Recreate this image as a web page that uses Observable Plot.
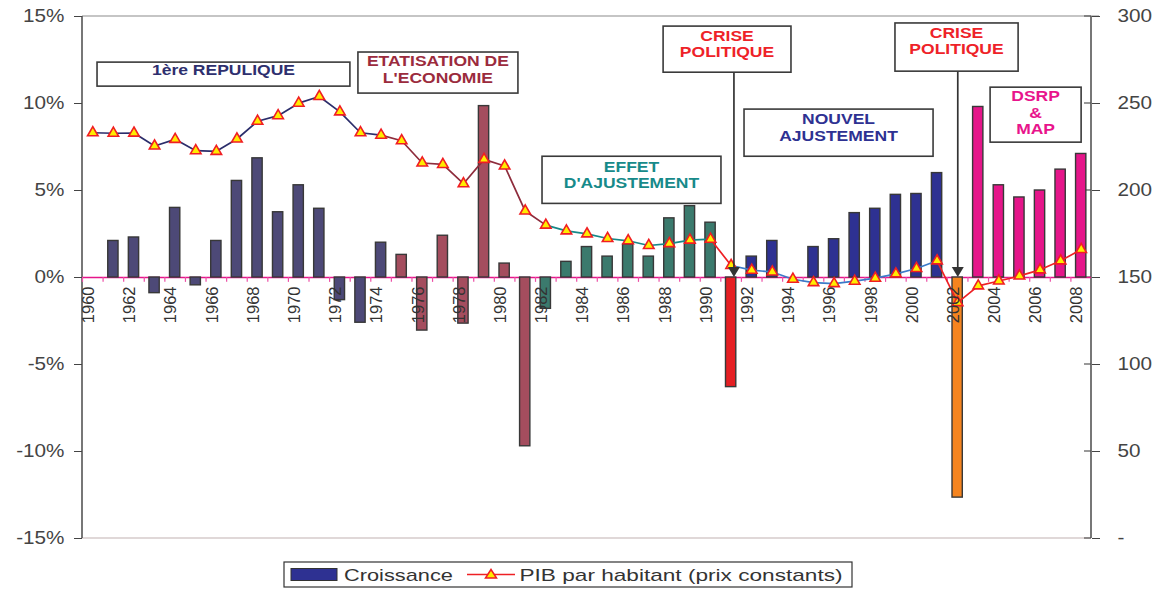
<!DOCTYPE html>
<html>
<head>
<meta charset="utf-8">
<script src="https://cdn.jsdelivr.net/npm/d3@7"></script>
<script src="https://cdn.jsdelivr.net/npm/@observablehq/plot@0.6"></script>
<style>
  html, body { margin: 0; padding: 0; background: #fff; }
  body { font-family: "Liberation Sans", Arial, sans-serif; width: 1162px; height: 589px; overflow: hidden; }
  #chart svg, #legend svg { display: block; }
</style>
</head>
<body>
<div id="chart"></div>
<div id="legend"></div>
<script>
// ---------- DATA ----------
const years = [1960,1961,1962,1963,1964,1965,1966,1967,1968,1969,1970,1971,1972,1973,1974,1975,1976,1977,1978,1979,
  1980,1981,1982,1983,1984,1985,1986,1987,1988,1989,1990,1991,1992,1993,1994,1995,1996,1997,1998,1999,
  2000,2001,2002,2003,2004,2005,2006,2007,2008];

// Croissance (%), left axis
const croissance = [null,2.1,2.3,-0.9,4.0,-0.45,2.1,5.55,6.85,3.75,5.3,3.95,-1.3,-2.6,2.0,1.3,-3.05,2.4,-2.65,9.85,
  0.8,-9.7,-1.8,0.9,1.75,1.2,1.9,1.2,3.4,4.1,3.15,-6.3,1.2,2.1,null,1.75,2.2,3.7,3.95,4.75,
  4.8,6.0,-12.65,9.8,5.3,4.6,5.0,6.2,7.1];

// PIB par habitant (prix constants), right axis
const pibHabitant = [233.2,232.9,233.0,225.6,229.4,222.9,222.5,229.6,239.8,243.0,250.2,254.0,245.2,233.2,231.8,228.6,215.8,215.0,203.9,217.9,
  214.1,188.2,180.1,176.8,175.1,172.4,171.1,168.4,169.5,171.5,172.0,156.9,154.2,153.2,149.0,147.1,146.5,147.9,149.6,152.1,
  155.2,159.6,135.6,145.2,148.0,150.9,154.4,159.6,166.1];

const yearLabels = [1960,1962,1964,1966,1968,1970,1972,1974,1976,1978,1980,1982,1984,1986,1988,1990,1992,1994,1996,1998,2000,2002,2004,2006,2008];
const leftTicks = [-15,-10,-5,0,5,10,15];
const leftTickLabels = ["-15%","-10%","-5%","0%","5%","10%","15%"];
const rightTickLabels = ["-","50","100","150","200","250","300"];

const note1 = ["1ère REPULIQUE"];
const note2 = ["ETATISATION DE","L'ECONOMIE"];
const note3 = ["EFFET","D'AJUSTEMENT"];
const note4 = ["CRISE","POLITIQUE"];
const note5 = ["NOUVEL","AJUSTEMENT"];
const note6 = ["CRISE","POLITIQUE"];
const note7 = ["DSRP","&","MAP"];

const legendLabels = ["Croissance","PIB par habitant (prix constants)"];

// ---------- STYLE HELPERS ----------
const FONT = "'Liberation Sans', Arial, Helvetica, sans-serif";
function barColor(y) {
  if (y <= 1974) return "#4d4977";
  if (y <= 1981) return "#a44d5e";
  if (y <= 1990) return "#3b7a6d";
  if (y === 1991) return "#e51f23";
  if (y <= 2001) return "#2e3192";
  if (y === 2002) return "#f5841f";
  return "#e5168a";
}
function lineColor(y) {
  if (y < 1974) return "#2b2d6b";
  if (y < 1982) return "#8e2c3c";
  if (y < 1990) return "#168888";
  if (y === 1990) return "#ee2024";
  if (y < 2001) return "#3b7bc9";
  return "#ee2024";
}
// PIB value expressed on the shared y scale (150 <-> 0 %, 10 units per %)
const toPct = v => (v - 150) / 10;

const table = years.map((y, i) => ({year: y, growth: croissance[i], pib: pibHabitant[i], pibY: toPct(pibHabitant[i])}));
const segments = [];
for (let i = 0; i < table.length - 1; i++) {
  const c = lineColor(table[i].year);
  segments.push({seg: i, year: table[i].year, v: table[i].pibY, color: c});
  segments.push({seg: i, year: table[i + 1].year, v: table[i + 1].pibY, color: c});
}

// annotation boxes (x in years, y in % units of the left axis)
const notes = [
  {lines: note1, color: "#2e2f6e", x1: 1960.23, x2: 1972.51, y1: 12.35, y2: 10.97, shift: -4},
  {lines: note2, color: "#9b2b3d", x1: 1972.90, x2: 1980.67, y1: 12.93, y2: 10.57, shift: -3},
  {lines: note3, color: "#178a8a", x1: 1981.84, x2: 1990.53, y1: 6.94, y2: 4.23, shift: -5},
  {lines: note4, color: "#ee2228", x1: 1987.72, x2: 1993.93, y1: 14.42, y2: 11.77, shift: -5, arrow: 1991.16},
  {lines: note5, color: "#2e3192", x1: 1991.65, x2: 2000.83, y1: 9.65, y2: 6.94, shift: -5},
  {lines: note6, color: "#ee2228", x1: 1998.98, x2: 2004.96, y1: 14.6, y2: 11.83, shift: -6, arrow: 2002.03},
  {lines: note7, color: "#e8148c", x1: 2003.6, x2: 2008.02, y1: 10.91, y2: 7.75, shift: -2}
];

function xPos(xs, yr) {
  const step = xs(years[1]) - xs(years[0]);
  const bw = xs.bandwidth ? xs.bandwidth() : step * 0.5;
  return xs(years[0]) + bw / 2 + (yr - years[0]) * step;
}

function frameMark(index, scales, values, dims) {
  const g = d3.create("svg:g");
  const ys = scales.y;
  const l = dims.marginLeft, r = dims.width - dims.marginRight;
  const t = ys(15), b = ys(-15);
  g.append("line").attr("x1", l).attr("x2", r + 8).attr("y1", t).attr("y2", t).attr("stroke", "#8c8c8c").attr("stroke-width", 1.2);
  g.append("line").attr("x1", l).attr("x2", r).attr("y1", b).attr("y2", b).attr("stroke", "#c2b2b2").attr("stroke-width", 1.2);
  g.append("line").attr("x1", l).attr("x2", l).attr("y1", t).attr("y2", b).attr("stroke", "#555").attr("stroke-width", 1.6);
  g.append("line").attr("x1", r).attr("x2", r).attr("y1", t).attr("y2", b).attr("stroke", "#555").attr("stroke-width", 1.6);
  for (const v of leftTicks) {
    g.append("line").attr("x1", r - 7).attr("x2", r).attr("y1", ys(v)).attr("y2", ys(v)).attr("stroke", "#555").attr("stroke-width", 1.2);
  }
  return g.node();
}

function notesMark(index, scales) {
  const g = d3.create("svg:g");
  const xs = scales.x, ys = scales.y;
  for (const n of notes) {
    const X1 = xPos(xs, n.x1), X2 = xPos(xs, n.x2), Y1 = ys(n.y1), Y2 = ys(n.y2);
    if (n.arrow !== undefined) {
      const ax = xPos(xs, n.arrow), y0 = ys(0);
      g.append("line").attr("x1", ax).attr("x2", ax).attr("y1", Y2).attr("y2", y0 - 9).attr("stroke", "#333").attr("stroke-width", 1.7);
      g.append("path").attr("d", `M${ax - 6},${y0 - 10}L${ax + 6},${y0 - 10}L${ax},${y0}Z`).attr("fill", "#333");
    }
    g.append("rect").attr("x", X1).attr("y", Y1).attr("width", X2 - X1).attr("height", Y2 - Y1)
      .attr("fill", "#fff").attr("stroke", "#3a3a3a").attr("stroke-width", 1.6);
    const lh = 16.5, cx = (X1 + X2) / 2, cy = (Y1 + Y2) / 2 + n.shift;
    const firstBase = cy - (n.lines.length - 1) * lh / 2 + 5;
    n.lines.forEach((s, i) => {
      g.append("text").attr("x", cx).attr("y", firstBase + i * lh)
        .attr("text-anchor", "middle").attr("font-weight", "bold").attr("font-size", 14)
        .attr("font-family", FONT).attr("fill", n.color).attr("data-stretch", 1.25).text(s);
    });
  }
  return g.node();
}

const plot = Plot.plot({
  width: 1162,
  height: 548,
  marginLeft: 82,
  marginRight: 71,
  marginTop: 16,
  marginBottom: 10,
  style: {fontFamily: FONT, fontSize: "16px", color: "#333", background: "#fff"},
  x: {type: "band", domain: years, paddingInner: 0.5, paddingOuter: 0.25, round: false, axis: null},
  y: {domain: [-15, 15], axis: null},
  color: {type: "identity"},
  marks: [
    frameMark,
    Plot.ruleY([0], {stroke: "#e5168a", strokeWidth: 1.3}),
    Plot.ruleX(years, {x: d => d, y1: 0, y2: -0.28, dx: -10.3, stroke: "#ec4fa6", strokeWidth: 1.2}),
    Plot.barY(table.filter(d => d.growth != null), {x: "year", y: "growth", fill: d => barColor(d.year), stroke: "#383838", strokeWidth: 1.4}),
    Plot.line(segments, {x: "year", y: "v", z: "seg", stroke: "color", strokeWidth: 1.7}),
    Plot.dot(table, {x: "year", y: "pibY", symbol: "triangle", r: 3.9, fill: "#ffec00", stroke: "#f01e23", strokeWidth: 1.6}),
    Plot.text(yearLabels, {x: d => d, y: 0, text: d => String(d), rotate: -90, textAnchor: "end", dy: 9, dx: -4, fontSize: 16.5, fill: "#333"}),
    notesMark,
    Plot.axisY(leftTicks, {anchor: "left", tickFormat: d => leftTickLabels[leftTicks.indexOf(d)], tickSize: 8, tickPadding: 10, fontSize: 18, color: "#444", label: null}),
    Plot.axisY(leftTicks, {anchor: "right", tickFormat: d => rightTickLabels[leftTicks.indexOf(d)], tickSize: 8, tickPadding: 18, fontSize: 18, color: "#444", label: null})
  ]
});
document.getElementById("chart").append(plot);

// ---------- LEGEND ----------
const lg = d3.create("svg").attr("width", 1162).attr("height", 41).style("background", "#fff");
lg.append("rect").attr("x", 284).attr("y", 14).attr("width", 568).attr("height", 25).attr("fill", "#fff").attr("stroke", "#333").attr("stroke-width", 1.2);
lg.append("rect").attr("x", 291).attr("y", 20.5).attr("width", 46).attr("height", 12).attr("fill", "#2e3192").attr("stroke", "#333").attr("stroke-width", 1);
lg.append("text").attr("x", 344).attr("y", 32.5).attr("font-size", 17).attr("font-family", FONT).attr("fill", "#333").attr("data-stretch", 1.28).text(legendLabels[0]);
lg.append("line").attr("x1", 467).attr("x2", 515).attr("y1", 26.5).attr("y2", 26.5).attr("stroke", "#ee2024").attr("stroke-width", 1.5);
lg.append("path").attr("d", "M485.5,30L496.5,30L491,21.5Z").attr("fill", "#ffec00").attr("stroke", "#f01e23").attr("stroke-width", 1.5);
lg.append("text").attr("x", 519.5).attr("y", 32.5).attr("font-size", 17).attr("font-family", FONT).attr("fill", "#333").attr("data-stretch", 1.33).text(legendLabels[1]);
document.getElementById("legend").append(lg.node());

// ---------- horizontal text stretch (the reference text is wide) ----------
function stretchAll(root) {
  root.querySelectorAll("text").forEach(el => {
    const tr = el.getAttribute("transform") || "";
    if (tr.includes("rotate")) return;
    let f = el.getAttribute("data-stretch");
    if (f == null) {
      const grp = el.closest("g[aria-label]");
      const lab = grp ? grp.getAttribute("aria-label") : "";
      if (lab && lab.includes("y-axis")) f = 1.15; else return;
    }
    f = +f;
    const len = el.getComputedTextLength();
    if (len > 0) {
      el.setAttribute("textLength", (len * f).toFixed(1));
      el.setAttribute("lengthAdjust", "spacingAndGlyphs");
    }
  });
}
stretchAll(plot);
stretchAll(lg.node());
</script>
</body>
</html>
